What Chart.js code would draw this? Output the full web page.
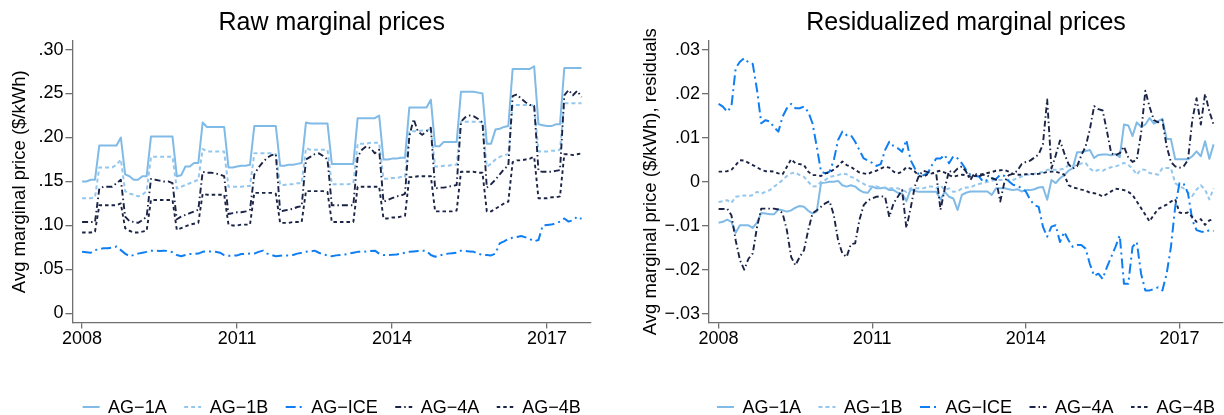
<!DOCTYPE html>
<html>
<head>
<meta charset="utf-8">
<script src="https://cdn.jsdelivr.net/npm/chart.js@4.4.1/dist/chart.umd.min.js"></script>
<style>
  html, body { margin: 0; padding: 0; background: #fff; }
  #wrap { position: relative; width: 1224px; height: 415px; overflow: hidden; }
  #wrap canvas { position: absolute; top: 0; width: 612px; height: 415px; }
  #rawCanvas { left: 0; }
  #resCanvas { left: 612px; }
</style>
</head>
<body>
<div id="wrap">
  <canvas id="rawCanvas" width="612" height="415"></canvas>
  <canvas id="resCanvas" width="612" height="415"></canvas>
</div>
<script>
// Tariff series, monthly from 2008m1 to 2017m9
const seriesNames = ['AG\u22121A', 'AG\u22121B', 'AG\u2212ICE', 'AG\u22124A', 'AG\u22124B'];

// Raw average marginal prices ($/kWh)
const raw1A = [
  .150,.150,.152,.152,.191,.191,.191,.191,.191,.200,.158,.156,
  .152,.152,.156,.156,.201,.201,.201,.201,.201,.201,.156,.157,
  .167,.167,.171,.171,.217,.212,.212,.212,.212,.212,.166,.166,
  .167,.168,.168,.169,.213,.213,.213,.213,.213,.213,.168,.168,
  .169,.169,.170,.171,.217,.216,.216,.216,.216,.216,.170,.170,
  .170,.170,.170,.170,.222,.222,.222,.222,.222,.225,.175,.175,
  .176,.176,.177,.177,.234,.234,.234,.234,.234,.243,.190,.190,
  .195,.195,.195,.195,.252,.252,.252,.252,.251,.250,.193,.193,
  .209,.210,.212,.213,.278,.278,.278,.278,.278,.281,.215,.214,
  .213,.213,.215,.215,.279,.279,.279,.279,.279
];
const raw1B = [
  .131,.131,.131,.132,.166,.166,.166,.166,.169,.175,.139,.136,
  .135,.133,.135,.139,.178,.178,.178,.178,.178,.178,.142,.144,
  .146,.148,.150,.152,.187,.184,.184,.184,.184,.184,.144,.144,
  .144,.144,.145,.145,.182,.182,.182,.182,.182,.181,.146,.146,
  .147,.147,.148,.148,.188,.186,.186,.186,.186,.186,.147,.147,
  .147,.147,.147,.148,.193,.193,.193,.194,.194,.194,.153,.153,
  .154,.154,.155,.155,.207,.207,.207,.208,.208,.210,.167,.167,
  .168,.168,.169,.169,.218,.218,.218,.218,.218,.217,.167,.170,
  .175,.178,.180,.181,.237,.237,.237,.237,.237,.236,.184,.184,
  .184,.185,.185,.186,.239,.239,.239,.239,.239
];
const rawICE = [
  .0700,.0695,.0690,.0720,.0730,.0740,.0740,.0750,.0760,.0720,.0680,.0650,
  .0664,.0680,.0690,.0700,.0714,.0714,.0710,.0714,.0710,.0695,.0664,.0650,
  .0664,.0676,.0676,.0680,.0700,.0706,.0704,.0702,.0690,.0664,.0657,.0657,
  .0660,.0676,.0676,.0680,.0680,.0700,.0714,.0680,.0664,.0650,.0655,.0660,
  .0660,.0665,.0680,.0690,.0702,.0705,.0714,.0690,.0670,.0660,.0650,.0660,
  .0665,.0670,.0680,.0690,.0700,.0700,.0705,.0710,.0714,.0680,.0664,.0664,
  .0666,.0670,.0680,.0690,.0700,.0705,.0710,.0714,.0710,.0664,.0645,.0660,
  .0670,.0680,.0685,.0690,.0714,.0710,.0705,.0700,.0680,.0664,.0664,.0660,
  .0680,.0797,.0820,.0845,.0860,.0870,.0880,.0865,.0845,.0820,.0835,.1000,
  .1006,.1010,.1025,.1044,.1080,.1044,.1060,.1100,.1075
];
const raw4A = [
  .104,.104,.104,.104,.142,.144,.144,.144,.148,.152,.110,.105,
  .104,.103,.106,.110,.153,.152,.151,.150,.150,.148,.107,.110,
  .112,.114,.116,.118,.161,.160,.160,.159,.158,.156,.113,.114,
  .115,.115,.116,.118,.158,.166,.172,.177,.180,.181,.116,.117,
  .118,.119,.121,.122,.175,.178,.181,.182,.179,.175,.123,.123,
  .123,.123,.123,.123,.178,.186,.190,.188,.182,.186,.127,.129,
  .131,.133,.134,.136,.201,.221,.207,.203,.207,.211,.142,.143,
  .143,.144,.145,.146,.218,.223,.225,.224,.221,.217,.143,.147,
  .152,.158,.164,.168,.247,.249,.244,.240,.237,.236,.162,.161,
  .161,.161,.162,.163,.248,.254,.248,.253,.246
];
const raw4B = [
  .092,.092,.092,.093,.123,.123,.123,.123,.123,.125,.097,.094,
  .092,.092,.093,.094,.129,.129,.129,.129,.129,.129,.095,.097,
  .099,.101,.102,.103,.136,.135,.135,.135,.135,.135,.101,.100,
  .100,.101,.101,.101,.137,.137,.137,.137,.137,.136,.103,.103,
  .103,.104,.104,.104,.139,.139,.139,.139,.139,.138,.104,.104,
  .104,.104,.104,.104,.144,.144,.144,.144,.144,.144,.108,.108,
  .109,.109,.110,.111,.155,.155,.156,.156,.156,.156,.116,.116,
  .116,.116,.116,.117,.161,.161,.161,.161,.160,.160,.116,.116,
  .119,.122,.125,.127,.172,.174,.174,.175,.176,.178,.131,.131,
  .131,.132,.132,.133,.181,.181,.180,.181,.182
];

// Residualized average marginal prices ($/kWh)
const res1A = [
  -.0093,-.0091,-.0086,-.0091,-.0116,-.0099,-.0099,-.0099,-.0105,-.0093,-.0071,-.0072,
  -.0074,-.0074,-.0063,-.0065,-.0068,-.0065,-.0059,-.0055,-.0057,-.0066,-.0072,-.0068,
  -.0003,-.0002,.0000,.0000,.0002,-.0008,-.0011,-.0008,-.0011,-.0019,-.0024,-.0025,
  -.0011,-.0015,-.0015,-.0013,-.0019,-.0019,-.0025,-.0027,-.0044,-.0017,-.0021,-.0023,
  -.0023,-.0023,-.0023,-.0023,-.0040,-.0023,-.0034,-.0038,-.0064,-.0030,-.0025,-.0022,
  -.0022,-.0022,-.0022,-.0022,-.0030,-.0015,-.0015,-.0015,-.0017,-.0019,-.0017,-.0022,
  -.0019,-.0019,-.0017,-.0013,-.0012,-.0041,.0004,-.0003,.0008,.0015,.0025,.0031,
  .0067,.0067,.0070,.0072,.0054,.0061,.0062,.0062,.0060,.0063,.0056,.0130,
  .0128,.0104,.0135,.0125,.0130,.0145,.0132,.0138,.0143,.0097,.0097,.0051,
  .0051,.0051,.0051,.0058,.0069,.0058,.0092,.0052,.0085
];
const res1B = [
  -.0046,-.0044,-.0042,-.0048,-.0034,-.0033,-.0031,-.0033,-.0030,-.0023,-.0027,-.0023,
  -.0019,-.0011,-.0004,.0004,.0013,.0019,.0021,.0015,.0011,.0000,-.0011,-.0010,
  .0000,.0004,.0011,.0013,.0015,.0019,.0017,.0011,.0008,.0000,-.0005,-.0010,
  -.0011,-.0011,-.0013,-.0015,-.0015,-.0015,-.0015,-.0019,-.0023,-.0015,-.0015,-.0015,
  -.0015,-.0011,-.0011,-.0015,-.0008,-.0019,-.0015,-.0023,-.0022,-.0015,-.0013,-.0013,
  -.0008,-.0005,-.0003,.0000,.0002,.0004,.0004,.0005,.0004,.0004,.0008,.0012,
  .0016,.0016,.0018,.0020,.0022,.0027,.0027,.0027,.0028,.0030,.0038,.0036,
  .0037,.0042,.0043,.0030,.0023,.0027,.0025,.0030,.0033,.0035,.0038,.0043,
  .0038,.0030,.0016,.0028,.0027,.0020,.0018,.0016,.0031,.0031,.0031,-.0003,
  -.0010,-.0015,-.0025,-.0032,-.0018,-.0008,-.0018,-.0040,-.0015
];
const resICE = [
  .0177,.0171,.0159,.0171,.0258,.0273,.0281,.0271,.0268,.0209,.0133,.0140,
  .0137,.0124,.0114,.0148,.0167,.0177,.0167,.0167,.0171,.0159,.0133,.0080,
  .0023,.0019,.0023,.0049,.0095,.0114,.0106,.0106,.0091,.0072,.0053,.0048,
  .0043,.0036,.0040,.0072,.0091,.0081,.0076,.0068,.0095,.0049,.0030,.0015,
  .0015,.0019,.0038,.0053,.0053,.0061,.0042,.0058,.0053,.0042,.0027,.0016,
  .0013,.0012,.0000,.0004,.0008,.0006,.0016,.0013,.0001,-.0007,-.0009,-.0015,
  -.0022,-.0041,-.0053,-.0057,-.0102,-.0125,-.0102,-.0099,-.0137,-.0114,-.0133,-.0148,
  -.0144,-.0144,-.0152,-.0187,-.0214,-.0209,-.0221,-.0194,-.0171,-.0148,-.0122,-.0232,
  -.0232,-.0148,-.0137,-.0209,-.0247,-.0247,-.0244,-.0240,-.0247,-.0209,-.0148,-.0057,
  -.0003,-.0005,-.0026,-.0087,-.0110,-.0113,-.0115,-.0110,-.0112
];
const res4A = [
  -.0062,-.0062,-.0061,-.0076,-.0133,-.0178,-.0200,-.0175,-.0163,-.0103,-.0061,-.0061,
  -.0061,-.0061,-.0063,-.0072,-.0110,-.0171,-.0190,-.0171,-.0156,-.0110,-.0072,-.0065,
  -.0057,-.0049,-.0044,-.0076,-.0133,-.0163,-.0171,-.0142,-.0140,-.0087,-.0053,-.0042,
  -.0038,-.0034,-.0033,-.0034,-.0080,-.0049,-.0034,-.0019,-.0105,-.0060,-.0010,.0015,
  .0025,.0022,.0020,.0018,-.0064,-.0015,.0025,.0020,.0030,.0035,.0023,.0004,
  .0020,.0012,.0016,.0014,.0008,.0005,-.0045,.0000,.0015,.0018,.0025,.0040,
  .0045,.0048,.0055,.0062,.0085,.0187,.0030,.0060,.0094,.0065,.0040,.0030,
  .0035,.0060,.0080,.0119,.0172,.0165,.0162,.0115,.0065,.0060,.0065,.0080,
  .0055,.0045,.0050,.0110,.0207,.0170,.0140,.0135,.0140,.0080,.0045,.0035,
  .0032,.0035,.0050,.0140,.0190,.0130,.0200,.0160,.0130
];
const res4B = [
  .0023,.0023,.0024,.0027,.0038,.0049,.0048,.0043,.0038,.0033,.0027,.0024,
  .0024,.0023,.0019,.0017,.0034,.0051,.0042,.0040,.0038,.0023,.0015,.0015,
  .0013,.0019,.0021,.0028,.0036,.0046,.0038,.0034,.0027,.0021,.0019,.0017,
  .0023,.0025,.0030,.0034,.0032,.0023,.0019,.0023,.0033,.0030,.0023,.0013,
  .0011,.0017,.0019,.0023,.0025,.0021,.0015,.0011,.0014,.0016,.0015,.0012,
  .0013,.0015,.0018,.0020,.0022,.0025,.0026,.0027,.0023,.0018,.0016,.0016,
  .0017,.0018,.0017,.0018,.0020,.0022,.0023,.0023,.0020,.0016,-.0008,-.0013,
  -.0015,-.0018,-.0020,-.0025,-.0026,-.0028,-.0034,-.0028,-.0022,-.0016,-.0017,-.0019,
  -.0023,-.0030,-.0045,-.0060,-.0075,-.0090,-.0075,-.0062,-.0057,-.0052,-.0045,-.0040,
  -.0070,-.0072,-.0070,-.0080,-.0091,-.0085,-.0098,-.0088,-.0085
];

// Month index since January 2008 (x position of each observation)
const months = raw1A.map((_, i) => i);

// Axis ticks
const yearTickMonths = [0, 36, 72, 108];
const yearTickLabels = ['2008', '2011', '2014', '2017'];
const rawTickValues = [0, .05, .10, .15, .20, .25, .30];
const rawTickLabels = ['0', '.05', '.10', '.15', '.20', '.25', '.30'];
const resTickValues = [-.03, -.02, -.01, 0, .01, .02, .03];
const resTickLabels = ['\u2212.03', '\u2212.02', '\u2212.01', '0', '.01', '.02', '.03'];

// Line styles
const seriesColors = ['#80bae6', '#94c7ee', '#0f7ef2', '#1b2446', '#1b2446'];
const seriesDashes = [[], [4, 3], [10, 4, 2, 4], [6, 3, 1.5, 3], [3.5, 3]];
const seriesWidths = [2, 2, 2, 1.9, 1.9];

const FONT = "'Liberation Sans', Arial, Helvetica, sans-serif";
const AXIS_GREY = '#707070';

// Legend drawn below the plot: a short line sample followed by the series name
const lineLegend = {
  id: 'lineLegend',
  afterDraw(chart, args, opts) {
    const { ctx, chartArea } = chart;
    ctx.save();
    ctx.font = `${opts.size}px ${FONT}`;
    const items = chart.data.datasets.map(ds => ({
      ds, w: opts.sample + opts.gap + ctx.measureText(ds.label).width
    }));
    const total = items.reduce((s, it) => s + it.w, 0) + opts.spacing * (items.length - 1);
    let x = (chartArea.left + chartArea.right) / 2 - total / 2;
    const y = opts.y;
    items.forEach(({ ds, w }) => {
      ctx.beginPath();
      ctx.setLineDash(ds.borderDash || []);
      ctx.strokeStyle = ds.borderColor;
      ctx.lineWidth = ds.borderWidth;
      ctx.moveTo(x, y);
      ctx.lineTo(x + opts.sample, y);
      ctx.stroke();
      ctx.setLineDash([]);
      ctx.fillStyle = '#000';
      ctx.textBaseline = 'middle';
      ctx.textAlign = 'left';
      ctx.fillText(ds.label, x + opts.sample + opts.gap, y + 1);
      x += w + opts.spacing;
    });
    ctx.restore();
  }
};

function makePanel(canvasId, cfg) {
  const datasets = seriesNames.map((name, i) => ({
    label: name,
    data: cfg.values[i].map((v, k) => ({ x: months[k], y: v })),
    borderColor: seriesColors[i],
    borderWidth: seriesWidths[i],
    borderDash: seriesDashes[i],
    borderJoinStyle: 'round',
    pointRadius: 0,
    tension: 0,
    fill: false,
    order: seriesNames.length - i
  }));

  return new Chart(document.getElementById(canvasId), {
    type: 'line',
    data: { datasets },
    options: {
      responsive: false,
      animation: false,
      devicePixelRatio: 1,
      layout: { autoPadding: false, padding: { left: 0, top: 0, right: cfg.padRight, bottom: 42.5 } },
      plugins: {
        legend: { display: false },
        tooltip: { enabled: false },
        title: {
          display: true, text: cfg.title, fullSize: false, color: '#000',
          font: { family: FONT, size: 25, weight: 'normal', lineHeight: 1.2 },
          padding: { top: 8.3, bottom: 2.7 }
        },
        lineLegend: { y: 407, sample: 17, gap: 8.5, spacing: 17.5, size: 18 }
      },
      scales: {
        x: {
          type: 'linear', min: -2.25, max: 118.2,
          afterBuildTicks: s => { s.ticks = yearTickMonths.map(v => ({ value: v })); },
          afterFit: s => { s.height = 50; },
          ticks: {
            callback: (v, i) => yearTickLabels[i],
            color: '#000', font: { family: FONT, size: 18 },
            padding: 0, maxRotation: 0, autoSkip: false
          },
          grid: { drawOnChartArea: false, drawTicks: true, tickLength: 6, color: AXIS_GREY, lineWidth: 1.3 },
          border: { display: true, color: AXIS_GREY, width: 1.3 }
        },
        y: {
          type: 'linear', min: cfg.yMin, max: cfg.yMax,
          afterBuildTicks: s => { s.ticks = cfg.tickValues.map(v => ({ value: v })); },
          afterFit: s => { s.width = cfg.yWidth; },
          ticks: {
            callback: (v, i) => cfg.tickLabels[i],
            color: '#000', font: { family: FONT, size: 18 },
            padding: 2, autoSkip: false
          },
          grid: { drawOnChartArea: false, drawTicks: true, tickLength: 7, color: AXIS_GREY, lineWidth: 1.3 },
          border: { display: true, color: AXIS_GREY, width: 1.3 },
          title: {
            display: true, text: cfg.yTitle, color: '#000',
            font: { family: FONT, size: 18.5, weight: 'normal', lineHeight: 1.2 },
            padding: { top: cfg.yTitlePad, bottom: 0 }
          }
        }
      }
    },
    plugins: [lineLegend]
  });
}

makePanel('rawCanvas', {
  title: 'Raw marginal prices',
  values: [raw1A, raw1B, rawICE, raw4A, raw4B],
  yMin: -0.0103, yMax: 0.3097,
  tickValues: rawTickValues, tickLabels: rawTickLabels,
  yTitle: 'Avg marginal price ($/kWh)', yTitlePad: 8.4,
  yWidth: 72.4, padRight: 21
});

makePanel('resCanvas', {
  title: 'Residualized marginal prices',
  values: [res1A, res1B, resICE, res4A, res4B],
  yMin: -0.032, yMax: 0.032,
  tickValues: resTickValues, tickLabels: resTickLabels,
  yTitle: 'Avg marginal price ($/kWh), residuals', yTitlePad: 27.9,
  yWidth: 97, padRight: 1
});
</script>
</body>
</html>
